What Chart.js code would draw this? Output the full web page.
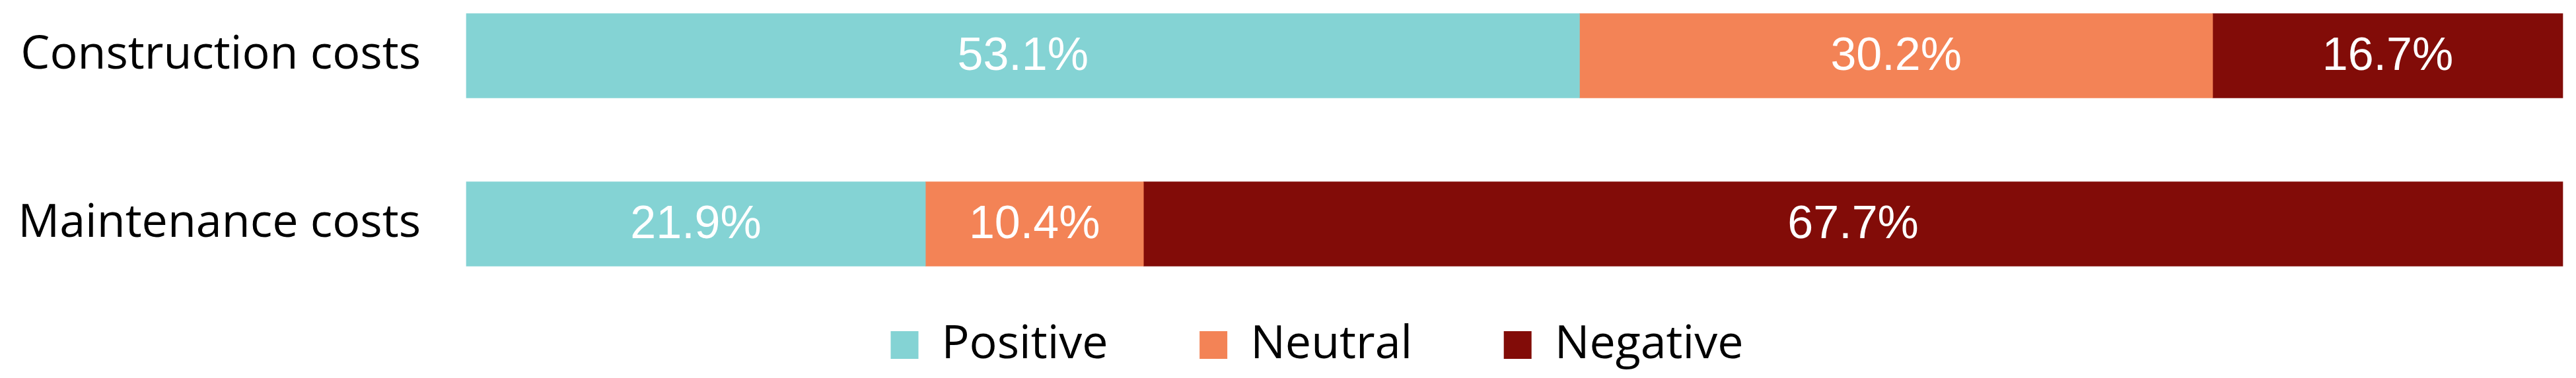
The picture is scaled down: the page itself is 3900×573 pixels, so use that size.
<!DOCTYPE html>
<html>
<head>
<meta charset="utf-8">
<script src="https://cdn.jsdelivr.net/npm/chart.js@4/dist/chart.umd.min.js"></script>
<style>
    html, body { margin: 0; padding: 0; background: #fff; }
</style>
</head>
<body>
<canvas id="graficoCustos" width="3900" height="573"></canvas>
<script>
// Dados do gráfico
const categorias = ['Construction costs', 'Maintenance costs'];
const positivo = [53.1, 21.9];
const neutro = [30.2, 10.4];
const negativo = [16.7, 67.7];
const nomesSeries = ['Positive', 'Neutral', 'Negative'];

const cores = ['#84d3d4', '#f38356', '#820c08'];
const fonteTexto = '"Open Sans", "Liberation Sans", sans-serif';

// Escreve o valor no meio de cada segmento
const rotulosBarras = {
    id: 'rotulosBarras',
    afterDatasetsDraw(chart) {
        const ctx = chart.ctx;
        ctx.save();
        ctx.font = '70px "Liberation Sans", Arial, sans-serif';
        ctx.fillStyle = '#ffffff';
        ctx.textAlign = 'center';
        ctx.textBaseline = 'middle';
        chart.data.datasets.forEach((ds, i) => {
            chart.getDatasetMeta(i).data.forEach((barra, j) => {
                const { x, y } = barra.getCenterPoint();
                ctx.fillText(ds.data[j].toFixed(1) + '%', x, y + 2);
            });
        });
        ctx.restore();
    }
};

// Empurra a legenda um pouco para a direita (no original ela não fica no centro exato)
const ajusteLegenda = {
    id: 'ajusteLegenda',
    afterLayout(chart) {
        if (chart.legend) chart.legend.left += 88;
    }
};

const valores = [positivo, neutro, negativo];

new Chart(document.getElementById('graficoCustos'), {
    type: 'bar',
    data: {
        labels: categorias,
        datasets: nomesSeries.map((nome, i) => ({
            label: nome,
            data: valores[i],
            backgroundColor: cores[i],
            borderWidth: 0,
            barThickness: 128,
            clip: false,
        })),
    },
    options: {
        indexAxis: 'y',
        responsive: false,
        animation: false,
        devicePixelRatio: 1,
        layout: { padding: { top: 84.5, left: 20, right: 20, bottom: 5 } },
        scales: {
            x: { stacked: true, min: 0, max: 100, display: false },
            y: {
                stacked: true,
                offset: false,
                grid: { display: false, drawTicks: false },
                border: { display: false },
                ticks: { padding: 69, color: '#000', font: { size: 70, family: fonteTexto } },
                afterFit(escala) {
                    escala.width = 686;
                    escala.paddingTop = 0;
                    escala.paddingBottom = 0;
                },
            },
        },
        plugins: {
            tooltip: { enabled: false },
            legend: {
                position: 'bottom',
                title: { display: true, text: '', padding: 0, font: { size: 10, lineHeight: 1 } },
                labels: {
                    boxWidth: 42,
                    boxHeight: 42,
                    padding: 138.5,
                    color: '#000',
                    font: { size: 70, family: fonteTexto },
                },
            },
        },
    },
    plugins: [rotulosBarras, ajusteLegenda],
});
</script>
</body>
</html>
